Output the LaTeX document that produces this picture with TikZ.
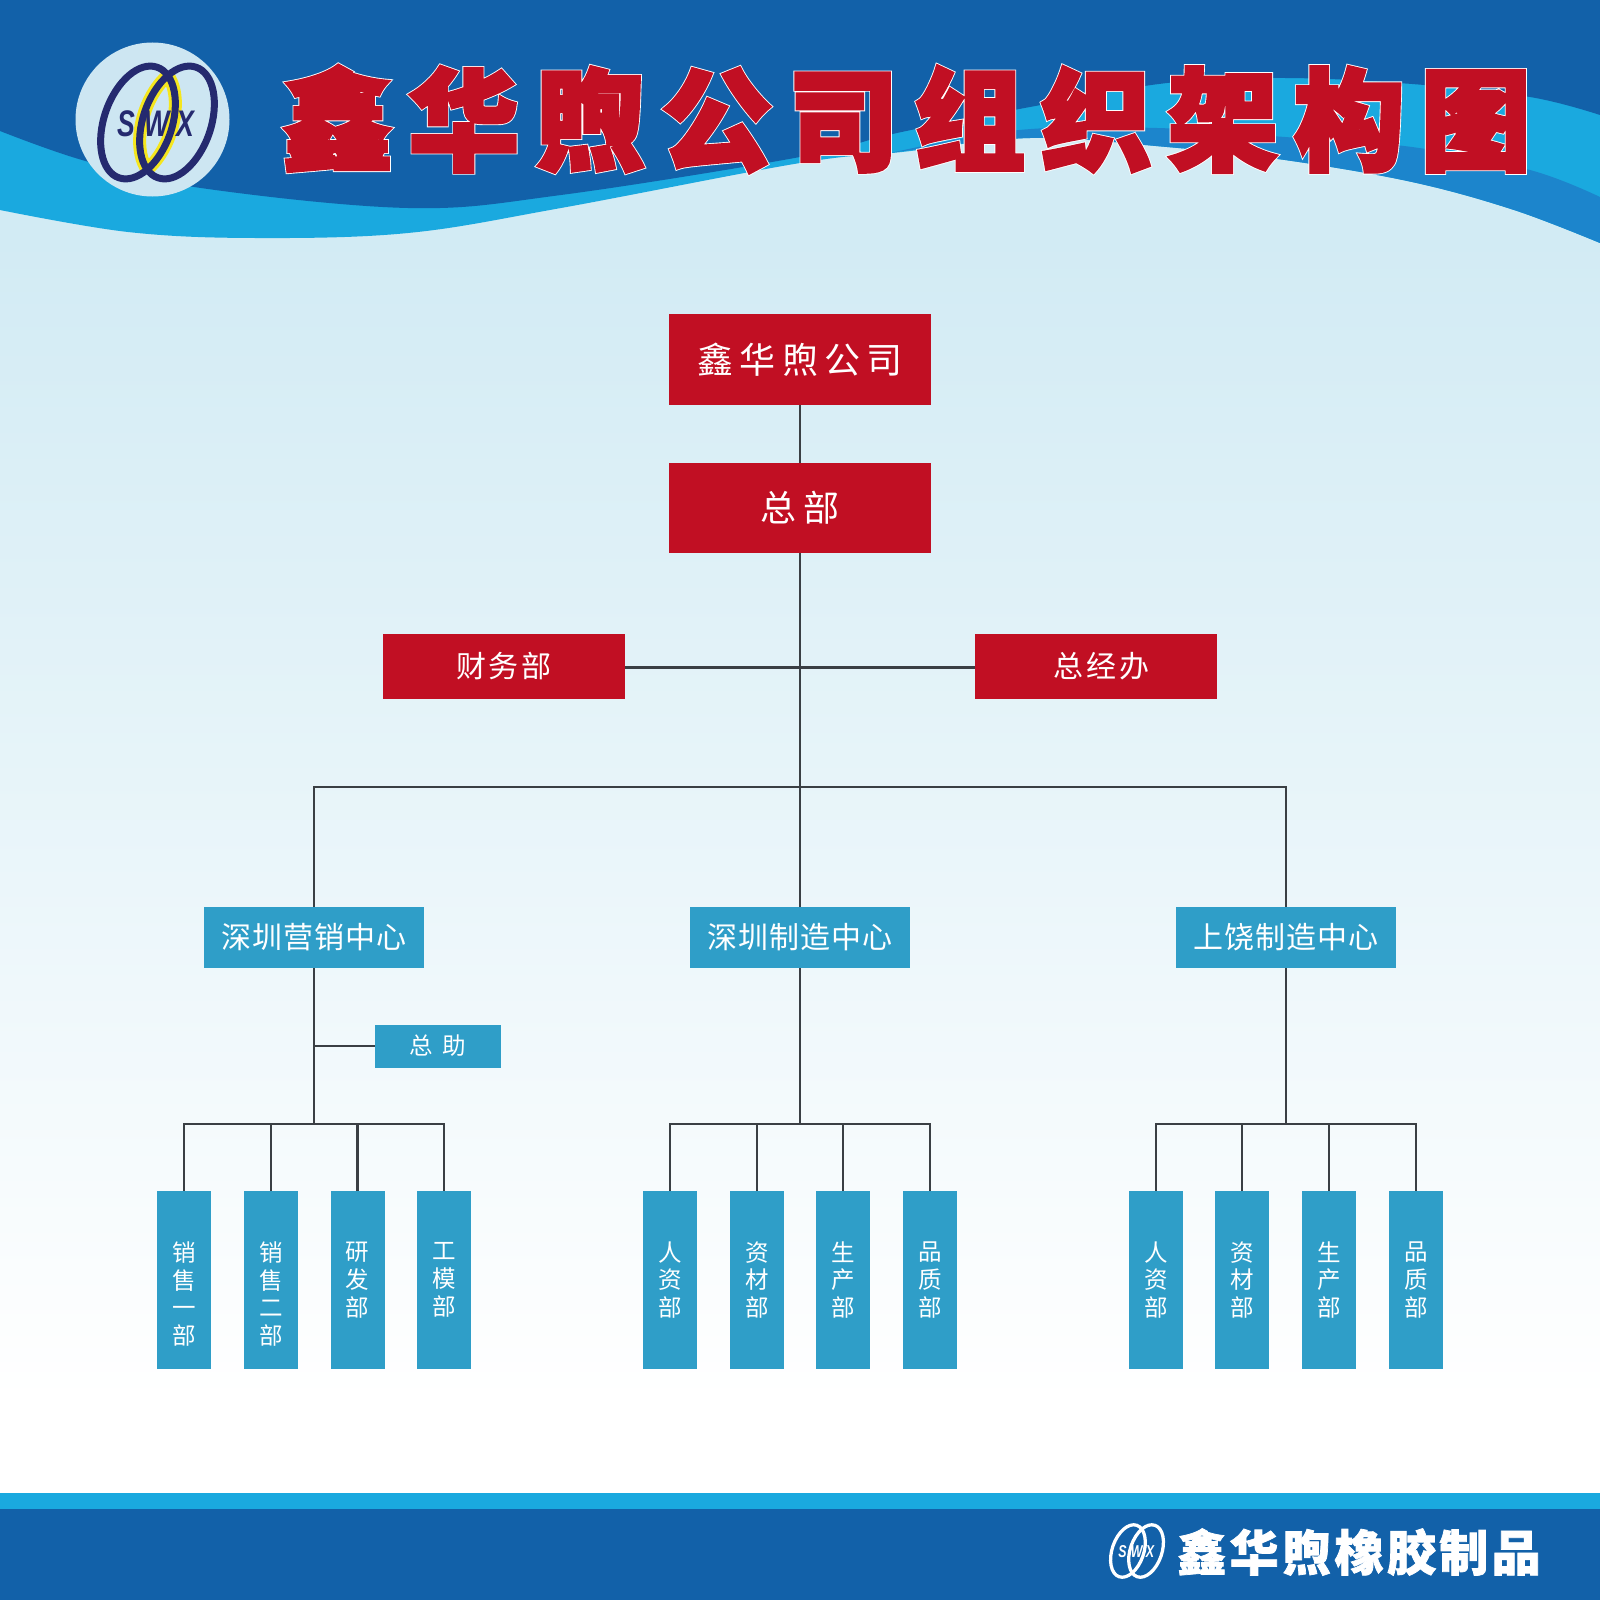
\documentclass[tikz,border=0pt]{standalone}
\usepackage{fontspec}
\newfontfamily\cjk{Noto Sans CJK SC}
\newfontfamily\titleW[FakeBold=5.4,LetterSpace=15]{Noto Sans CJK SC}
\newfontfamily\titleR[FakeBold=3.8,LetterSpace=15]{Noto Sans CJK SC}
\newfontfamily\footF[FakeBold=1.5,LetterSpace=7]{Noto Sans CJK SC}
\newfontfamily\lsans{Liberation Sans}
\definecolor{dkblue}{HTML}{1261A9}
\definecolor{cyanb}{HTML}{1AA9DF}
\definecolor{midb}{HTML}{1C85CC}
\definecolor{lightb}{HTML}{D2EBF4}
\definecolor{redb}{HTML}{C10F23}
\definecolor{boxb}{HTML}{2F9EC8}
\definecolor{wire}{HTML}{3A3F44}
\definecolor{navy}{HTML}{252A6F}
\definecolor{logobg}{HTML}{CDE6F2}
\definecolor{lensy}{HTML}{F5E61E}
\tikzset{
 redbox/.style={fill=redb,text=white,inner sep=0pt,font=\cjk},
 bluebox/.style={fill=boxb,text=white,inner sep=0pt,font=\cjk},
 vbox/.style={fill=boxb,text=white,inner sep=0pt,font=\cjk\fontsize{23.5}{27.7}\selectfont,minimum width=54pt,minimum height=178pt,align=center},
 wireline/.style={draw=wire,line width=2.2pt},
 logoletter/.style={inner sep=0pt,font=\lsans\itshape\bfseries\fontsize{37}{37}\selectfont},
}
\newcommand{\lab}[4][1.5pt]{\raisebox{-#1}{\fontsize{#2}{#2}\selectfont\addfontfeatures{LetterSpace=#3}#4}}
\newcommand{\vpad}{\rule{0pt}{20pt}\\}
\newcommand{\logomark}[5]{%
 \begin{scope}[shift={(#1,#2)},scale=#3]
  \draw[#4,line width=#3*7pt,shift={(-19.5,0)},rotate=-19] (0,0) ellipse (34 and 58.5);
  \draw[#4,line width=#3*7pt,shift={(19.5,0)},rotate=-19] (0,0) ellipse (34 and 58.5);
  \node[logoletter,text=#4,xscale=#3*.72,yscale=#3] (#5S) at (-31,1.5) {S};
  \node[logoletter,text=#4,xscale=#3*.72,yscale=#3] (#5W) at (-.5,1.5) {W};
  \node[logoletter,text=#4,xscale=#3*.72,yscale=#3] (#5X) at (28,1.5) {X};
 \end{scope}}
\begin{document}
\begin{tikzpicture}[x=1pt,y=-1pt]
\useasboundingbox (0,0) rectangle (1600,1600);
\clip (0,0) rectangle (1600,1600);
% background
\fill[white] (0,0) rectangle (1600,1600);
\fill[lightb] (0,0) rectangle (1600,240);
\shade[top color=lightb,bottom color=white] (0,239) rectangle (1600,1400);
% waves
\fill[cyanb] (0,0) -- (0,210) -- plot[smooth,tension=.6] coordinates {(0,210) (128,232) (255,238) (408,233) (561,208) (800,163) (902,152) (1030,138) (1167,147) (1285,160) (1412,182) (1514,210) (1600,243)} -- (1600,0) -- cycle;
\fill[midb] plot[smooth,tension=.6] coordinates {(890,153) (1019,130) (1157,128) (1285,137) (1412,147) (1530,170) (1600,197)} -- (1600,243) -- plot[smooth,tension=.6] coordinates {(1600,243) (1514,210) (1412,182) (1285,160) (1167,147) (1030,138) (890,153)} -- cycle;
\fill[dkblue] (0,0) -- (0,131) -- plot[smooth,tension=.6] coordinates {(0,131) (82,160) (194,187) (408,208) (561,195) (800,157) (897,133) (1030,107) (1167,83) (1285,78) (1412,84) (1530,97) (1600,115)} -- (1600,0) -- cycle;
% footer
\fill[cyanb] (0,1493) rectangle (1600,1510);
\fill[dkblue] (0,1509) rectangle (1600,1600);
% logo
\fill[logobg] (152.5,119.5) circle (77);
\begin{scope}
 \clip[shift={(138,122.5)},rotate=-19] (0,0) ellipse (34 and 58.5);
 \draw[lensy,line width=13pt,shift={(177,122.5)},rotate=-19] (0,0) ellipse (34 and 58.5);
\end{scope}
\begin{scope}
 \clip[shift={(177,122.5)},rotate=-19] (0,0) ellipse (34 and 58.5);
 \draw[lensy,line width=13pt,shift={(138,122.5)},rotate=-19] (0,0) ellipse (34 and 58.5);
\end{scope}
\logomark{157.5}{122.5}{1}{navy}{a}
\logomark{1137}{1551}{.465}{white}{b}
% title
\node[inner sep=0pt] (title) at (906.5,119) {\fontsize{110}{110}\selectfont\rlap{\color{white}\titleW\bfseries 鑫华煦公司组织架构图}\color{redb}\titleR\bfseries 鑫华煦公司组织架构图};
\node[inner sep=0pt,text=white] (foot) at (1359,1552) {\footF\bfseries\fontsize{49}{49}\selectfont 鑫华煦橡胶制品};
% nodes
\node[redbox,minimum width=262pt,minimum height=91pt] (co) at (800,359.5) {\lab{36}{18}{鑫华煦公司}};
\node[redbox,minimum width=262pt,minimum height=90pt] (hq) at (800,508) {\lab{36}{22}{总部}};
\node[redbox,minimum width=242pt,minimum height=65pt] (fin) at (504,666.5) {\lab[4pt]{30}{9}{财务部}};
\node[redbox,minimum width=242pt,minimum height=65pt] (gm) at (1096,666.5) {\hspace*{11pt}\lab[4pt]{30}{9}{总经办}};
\node[bluebox,minimum width=220pt,minimum height=61pt] (c1) at (314,937.5) {\lab[4pt]{30}{3}{深圳营销中心}};
\node[bluebox,minimum width=220pt,minimum height=61pt] (c2) at (800,937.5) {\lab[4pt]{30}{3}{深圳制造中心}};
\node[bluebox,minimum width=220pt,minimum height=61pt] (c3) at (1286,937.5) {\lab[4pt]{30}{3}{上饶制造中心}};
\node[bluebox,minimum width=126pt,minimum height=43pt] (aid) at (438,1046) {\lab{23.5}{40}{总助}};
\coordinate (bus) at (800,787);
\coordinate (b1) at (314,1124);
\coordinate (b2) at (800,1124);
\coordinate (b3) at (1286,1124);
% leaf boxes
\node[vbox] (s1) at (184,1280) {\vpad 销\\售\\一\\部};
\node[vbox] (s2) at (271,1280) {\vpad 销\\售\\二\\部};
\node[vbox] (s3) at (357.5,1280) {研\\发\\部};
\node[vbox] (s4) at (444,1280) {工\\模\\部};
\node[vbox] (m1) at (670,1280) {人\\资\\部};
\node[vbox] (m2) at (757,1280) {资\\材\\部};
\node[vbox] (m3) at (843,1280) {生\\产\\部};
\node[vbox] (m4) at (930,1280) {品\\质\\部};
\node[vbox] (r1) at (1156,1280) {人\\资\\部};
\node[vbox] (r2) at (1242,1280) {资\\材\\部};
\node[vbox] (r3) at (1329,1280) {生\\产\\部};
\node[vbox] (r4) at (1416,1280) {品\\质\\部};
% connectors
\draw[wireline] (co.south) -- (hq.north);
\draw[wireline] (hq.south) -- (c2.north);
\draw[wireline] ([yshift=-1pt]fin.east) -- ([yshift=-1pt]gm.west);
\draw[wireline] (c1.north) |- (bus) -| (c3.north);
\draw[wireline] (c1.south) -- (b1);
\draw[wireline] (c2.south) -- (b2);
\draw[wireline] (c3.south) -- (b3);
\draw[wireline] (aid.west) -- (aid.west -| c1.south);
\draw[wireline] (s1.north) |- (b1) -| (s4.north);
\draw[wireline] (s2.north) -- (s2.north |- b1);
\draw[wireline] (s3.north) -- (s3.north |- b1);
\draw[wireline] (m1.north) |- (b2) -| (m4.north);
\draw[wireline] (m2.north) -- (m2.north |- b2);
\draw[wireline] (m3.north) -- (m3.north |- b2);
\draw[wireline] (r1.north) |- (b3) -| (r4.north);
\draw[wireline] (r2.north) -- (r2.north |- b3);
\draw[wireline] (r3.north) -- (r3.north |- b3);
\end{tikzpicture}
\end{document}
